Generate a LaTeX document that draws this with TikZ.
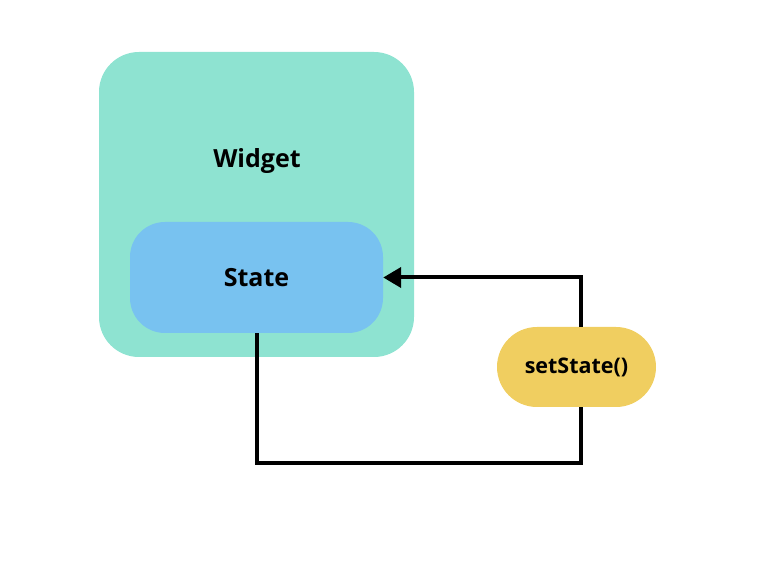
\documentclass[tikz,border=0pt]{standalone}
\usepackage{fontspec}
\setmainfont{Open Sans}
\usetikzlibrary{arrows.meta}
\usetikzlibrary{positioning}

\definecolor{widgetgreen}{HTML}{8EE3D1}
\definecolor{stateblue}{HTML}{78C2F0}
\definecolor{pillyellow}{HTML}{F0CE60}

\begin{document}
\begin{tikzpicture}[x=1pt,y=-1pt,>={Triangle[length=18pt,width=20pt]},
  box/.style={draw=none,rectangle,inner sep=0pt},
  wire/.style={line width=4pt,draw=black}]
\useasboundingbox (0,0) rectangle (764,580);

\node[box,fill=widgetgreen,rounded corners=40pt,minimum width=315pt,minimum height=305pt] (widget) at (256.5,204.5) {};
\node[font=\bfseries\fontsize{25}{29}\selectfont] (widgetlabel) at (257,161) {Widget};

\node[box,fill=stateblue,rounded corners=35pt,minimum width=253pt,minimum height=111pt,font=\bfseries\fontsize{25}{29}\selectfont] (state) at (256.5,277.5) {State};

\node[box,fill=pillyellow,rounded corners=40pt,minimum width=159pt,minimum height=80pt,font=\bfseries\fontsize{21.5}{25}\selectfont] (setstate) at (576.5,367) {setState()};

\draw[wire] (state.south) -- ++(0,130) -| ([xshift=4.5pt]setstate.south);
\draw[wire,->] ([xshift=4.5pt]setstate.north) |- (state.east);

\end{tikzpicture}
\end{document}
